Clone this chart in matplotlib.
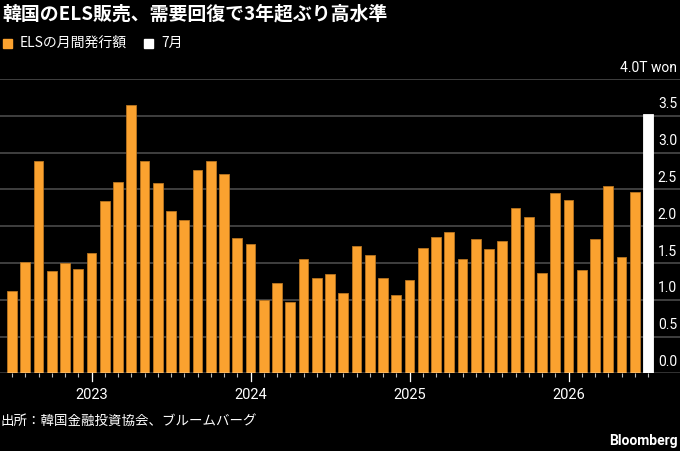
import matplotlib
matplotlib.use('Agg')
from matplotlib import pyplot as plt
import pandas as pd

plt.rcParams['font.family'] = ['Noto Sans CJK JP', 'DejaVu Sans']

# monthly ELS issuance, trillion won, Jul 2022 - Jul 2026
months = pd.date_range('2022-07-01', '2026-07-01', freq='MS')
values = [1.12, 1.51, 2.88, 1.39, 1.50, 1.42, 1.64, 2.34, 2.60, 3.64,
          2.88, 2.58, 2.20, 2.08, 2.76, 2.89, 2.71, 1.84, 1.76, 1.00,
          1.23, 0.97, 1.55, 1.30, 1.35, 1.09, 1.73, 1.61, 1.29, 1.06,
          1.27, 1.70, 1.85, 1.92, 1.55, 1.82, 1.69, 1.80, 2.24, 2.12,
          1.36, 2.45, 2.35, 1.40, 1.82, 2.54, 1.58, 2.46, 3.52]
highlight = '2026-07'
yticks = [0.0, 0.5, 1.0, 1.5, 2.0, 2.5, 3.0, 3.5, 4.0]
ytick_labels = ['0.0', '0.5', '1.0', '1.5', '2.0', '2.5', '3.0', '3.5', '4.0T won']

title = '韓国のELS販売、需要回復で3年超ぶり高水準'
legend_labels = ['ELSの月間発行額', '7月']
source = '出所：韓国金融投資協会、ブルームバーグ'

orange = '#fba22f'
bg = 'black'
num_font = ['Roboto', 'DejaVu Sans']

W, H = 680, 451
fig = plt.figure(figsize=(W / 100, H / 100), dpi=100, facecolor=bg)
ax = fig.add_axes([0, (H - 373.3) / H, 1, (373.3 - 79) / H], facecolor=bg)

n = len(values)
px = 13.25  # pixels per month
x = list(range(n))
colors = ['white' if m.strftime('%Y-%m') == highlight else orange for m in months]
edges = ['white' if c == 'white' else '#b87420' for c in colors]
ax.bar(x, values, width=0.72, color=colors, edgecolor=edges, linewidth=0.6, zorder=3)

ax.set_xlim(-12 / px, (W - 12) / px)
ax.set_ylim(0, 4.0)

for v in yticks[1:]:
    ax.axhline(v, color='#4a4a4a', lw=1.2, zorder=1)
ax.axhline(0, color='white', lw=1.0, zorder=4)

for v, lab in zip(yticks, ytick_labels):
    ax.text((677 - 12) / px, v + 0.06, lab, color='white', fontsize=10,
            ha='right', va='bottom', family=num_font)

# month ticks and year labels
ax.set_xticks(x)
ax.tick_params(axis='x', length=3, color='#bbbbbb', width=0.8, labelbottom=False)
ax.tick_params(axis='y', left=False, labelleft=False)
for i, m in enumerate(months):
    if m.month == 1:
        ax.plot([i, i], [0, -0.1], color='white', lw=0.9, clip_on=False, zorder=5)
        ax.text(i, -0.2, str(m.year), color='white', fontsize=10.5, ha='center', va='top',
                family=num_font)
for s in ax.spines.values():
    s.set_visible(False)

fig.text(2 / W, 1 - 14 / H, title, color='white', fontsize=13.6, fontweight='bold',
         ha='left', va='center')
fig.patches.append(plt.Rectangle((3 / W, 1 - 47.5 / H), 9 / W, 9 / H, transform=fig.transFigure,
                                 color=orange))
fig.text(20 / W, 1 - 43 / H, legend_labels[0], color='white', fontsize=10, ha='left', va='center')
fig.patches.append(plt.Rectangle((144 / W, 1 - 47.5 / H), 9 / W, 9 / H, transform=fig.transFigure,
                                 color='white'))
fig.text(161 / W, 1 - 43 / H, legend_labels[1], color='white', fontsize=10, ha='left', va='center')

fig.text(1 / W, 1 - 421 / H, source, color='white', fontsize=9.7, ha='left', va='center')
fig.text(678 / W, 1 - 441 / H, 'Bloomberg', color='white', fontsize=10, fontweight='bold',
         ha='right', va='center', family=num_font)

fig.savefig('out.png', dpi=100, facecolor=bg)
